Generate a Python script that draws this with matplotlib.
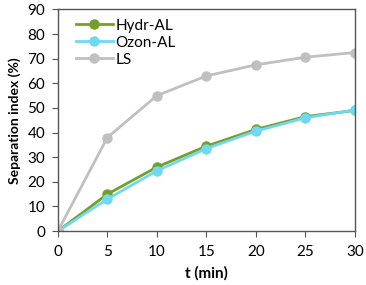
import matplotlib
matplotlib.use("Agg")
import matplotlib.pyplot as plt

# время (мин) и индекс разделения (%)
t_min = [0, 5, 10, 15, 20, 25, 30]
hydr_al = [0, 15, 26, 34.5, 41.3, 46.5, 49]
ozon_al = [0, 13, 24.5, 33.5, 40.6, 46, 49.2]
ls = [0, 38, 55, 63, 67.5, 70.6, 72.5]

plt.rcParams['font.family'] = ['Lato', 'DejaVu Sans']

fig = plt.figure(figsize=(3.66, 2.85), dpi=100)
ax = fig.add_axes([0.158, 0.189, 0.812, 0.778])

ax.plot(t_min, hydr_al, 'o-', color='#72A12A', lw=2, ms=6.5, label='Hydr-AL')
ax.plot(t_min, ozon_al, 'o-', color='#70D8F2', lw=2, ms=6.5, label='Ozon-AL')
ax.plot(t_min, ls, 'o-', color='#C0C0C0', lw=2, ms=6.5, label='LS')

ax.set_xlim(0, 30)
ax.set_ylim(0, 90)
ax.set_xticks(range(0, 31, 5))
ax.set_yticks(range(0, 91, 10))
ax.tick_params(labelsize=11, length=4, color='#555555')
ax.tick_params(axis='x', pad=6)
ax.tick_params(axis='y', pad=5)
for s in ax.spines.values():
    s.set_color('#555555')
    s.set_linewidth(1.0)
    s.set_clip_on(False)

ax.set_xlabel('t (min)', fontsize=11, fontweight='bold', labelpad=5)
ax.set_ylabel('Separation index (%)', fontsize=10, fontweight='bold', labelpad=5)

ax.legend(loc='upper left', frameon=False, fontsize=11, handlelength=2.4,
          handletextpad=0.2, labelspacing=0.2, borderaxespad=0.2,
          bbox_to_anchor=(0.03, 1.0))

fig.savefig('out.png', dpi=100)
